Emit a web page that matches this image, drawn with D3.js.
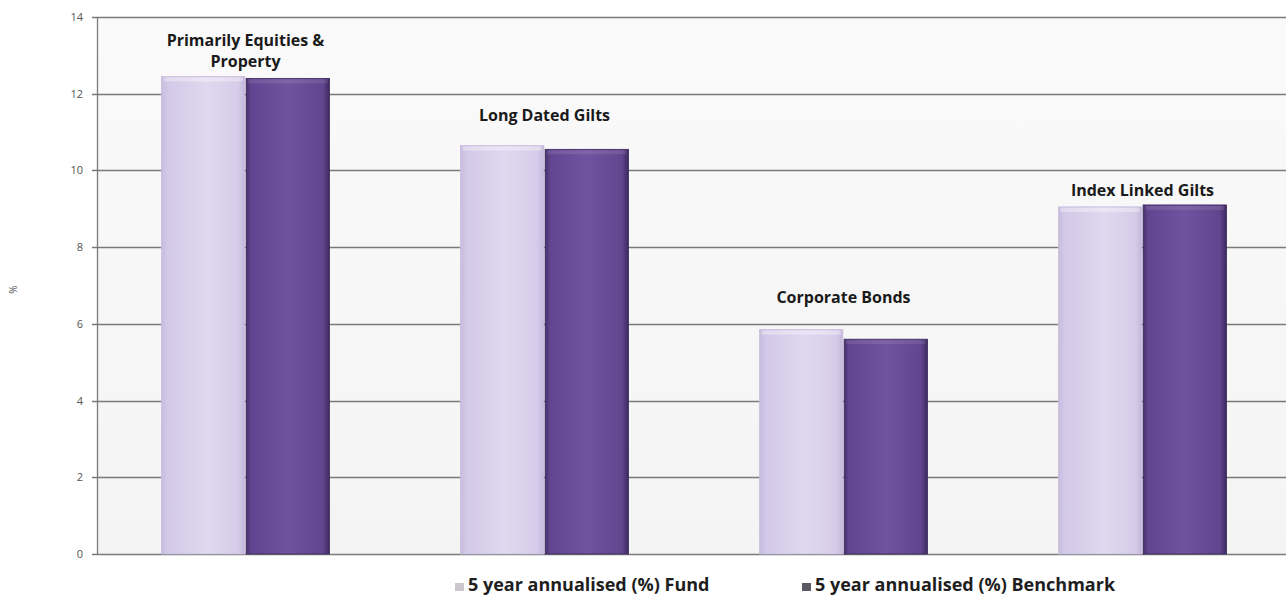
<!DOCTYPE html>
<html>
<head>
<meta charset="utf-8">
<script src="https://cdn.jsdelivr.net/npm/d3@7"></script>
<style>
  html, body { margin: 0; padding: 0; background: #ffffff; }
  svg { display: block; }
</style>
</head>
<body>
<svg id="chart" width="1286" height="599"></svg>
<script>
// Fund categories and 5-year annualised returns (%)
const categories = ["Primarily Equities & Property", "Long Dated Gilts", "Corporate Bonds", "Index Linked Gilts"];
const categoryLines = [["Primarily Equities &", "Property"], ["Long Dated Gilts"], ["Corporate Bonds"], ["Index Linked Gilts"]];
const seriesNames = ["5 year annualised (%) Fund", "5 year annualised (%) Benchmark"];
const fundValues = [12.45, 10.65, 5.85, 9.05];
const benchmarkValues = [12.4, 10.55, 5.6, 9.1];
const yTicks = [0, 2, 4, 6, 8, 10, 12, 14];

// gap (px) between a category label's last baseline and its tallest bar
const labelGap = [9, 24, 27, 9];

const svg = d3.select("#chart");
const margin = { left: 97, top: 17, right: -7, bottom: 45 };
const W = 1286, H = 599;
const plotW = W - margin.left - margin.right;
const plotH = H - margin.top - margin.bottom;
const labelFont = "'Open Sans', Lato, sans-serif";

const defs = svg.append("defs");
function barGradient(id, stops) {
  const g = defs.append("linearGradient").attr("id", id).attr("x1", "0").attr("x2", "1").attr("y1", "0").attr("y2", "0");
  stops.forEach(([o, c]) => g.append("stop").attr("offset", o).attr("stop-color", c));
}
barGradient("gFund", [["0", "#c6bcdd"], ["0.08", "#d3c9e8"], ["0.55", "#e0d8ef"], ["0.92", "#d6cce9"], ["1", "#c2b7da"]]);
barGradient("gBench", [["0", "#46306c"], ["0.06", "#614591"], ["0.5", "#70539e"], ["0.92", "#61458f"], ["1", "#3d295e"]]);
const bg = defs.append("linearGradient").attr("id", "gBg").attr("x1", "0").attr("x2", "0").attr("y1", "0").attr("y2", "1");
bg.append("stop").attr("offset", "0").attr("stop-color", "#fafafa");
bg.append("stop").attr("offset", "1").attr("stop-color", "#f4f4f4");

const x0 = d3.scaleBand().domain(categories).range([margin.left, margin.left + plotW]).paddingInner(0).paddingOuter(0);
const x1 = d3.scaleBand().domain(seriesNames).range([0, 168]).paddingInner(0.015);
const y = d3.scaleLinear().domain([0, 14]).range([margin.top + plotH, margin.top]);

// plot background
svg.append("rect")
  .attr("x", margin.left).attr("y", margin.top)
  .attr("width", plotW).attr("height", plotH)
  .attr("fill", "url(#gBg)");

// gridlines
svg.append("g")
  .selectAll("line")
  .data(yTicks)
  .join("line")
  .attr("x1", margin.left - 5).attr("x2", margin.left + plotW)
  .attr("y1", d => Math.round(y(d)) + 0.5).attr("y2", d => Math.round(y(d)) + 0.5)
  .attr("stroke", "#7a7a7a")
  .attr("stroke-width", 1.3);

// y axis line
svg.append("line")
  .attr("x1", margin.left + 0.5).attr("x2", margin.left + 0.5)
  .attr("y1", y(14)).attr("y2", y(0))
  .attr("stroke", "#7a7a7a").attr("stroke-width", 1.3);

// y tick labels
svg.append("g")
  .selectAll("text")
  .data(yTicks)
  .join("text")
  .attr("x", margin.left - 14).attr("y", d => y(d) + 4)
  .attr("text-anchor", "end")
  .attr("font-family", labelFont)
  .attr("font-size", 11)
  .attr("fill", "#555")
  .text(d => d);

// y axis title
svg.append("text")
  .attr("transform", `translate(17,${margin.top + plotH / 2 + 4}) rotate(-90)`)
  .attr("text-anchor", "middle")
  .attr("font-family", labelFont)
  .attr("font-size", 10)
  .attr("fill", "#555")
  .text("%");

// bars
const groups = categories.map((c, i) => ({ c, i, vals: [fundValues[i], benchmarkValues[i]] }));
const groupOffset = (x0.bandwidth() - 168) / 2 - 1;
const fills = ["url(#gFund)", "url(#gBench)"];
const edges = ["#c8bedf", "#3a275a"];

const g = svg.append("g");
groups.forEach(grp => {
  grp.vals.forEach((v, k) => {
    const bx = x0(grp.c) + groupOffset + x1(seriesNames[k]);
    g.append("rect")
      .attr("x", bx).attr("y", y(v))
      .attr("width", x1.bandwidth()).attr("height", y(0) - y(v))
      .attr("fill", fills[k])
      .attr("stroke", edges[k]).attr("stroke-width", 0.8);
    // soft highlight at the bar top
    g.append("rect")
      .attr("x", bx + 2).attr("y", y(v) + 1)
      .attr("width", x1.bandwidth() - 4).attr("height", 4)
      .attr("fill", "#ffffff").attr("opacity", k === 0 ? 0.35 : 0.1);
  });
  // category label above the group
  const top = y(d3.max(grp.vals));
  const lines = categoryLines[grp.i];
  const cx = x0(grp.c) + groupOffset + 84;
  const t = svg.append("text")
    .attr("text-anchor", "middle")
    .attr("font-family", labelFont)
    .attr("font-weight", "bold")
    .attr("font-size", 16)
    .attr("fill", "#1a1a1a");
  lines.forEach((ln, j) => {
    t.append("tspan")
      .attr("x", cx)
      .attr("y", top - labelGap[grp.i] - (lines.length - 1 - j) * 21)
      .text(ln);
  });
});

// legend
const legend = svg.append("g");
const legendX = [455, 802];
seriesNames.forEach((s, k) => {
  legend.append("rect")
    .attr("x", legendX[k]).attr("y", 583)
    .attr("width", 9).attr("height", 8)
    .attr("fill", k === 0 ? "#c9c6d0" : "#5c5a66");
  legend.append("text")
    .attr("x", legendX[k] + 13).attr("y", 591)
    .attr("font-family", labelFont)
    .attr("font-weight", "bold")
    .attr("font-size", 18)
    .attr("fill", "#1e1e1e")
    .text(s);
});
</script>
</body>
</html>
